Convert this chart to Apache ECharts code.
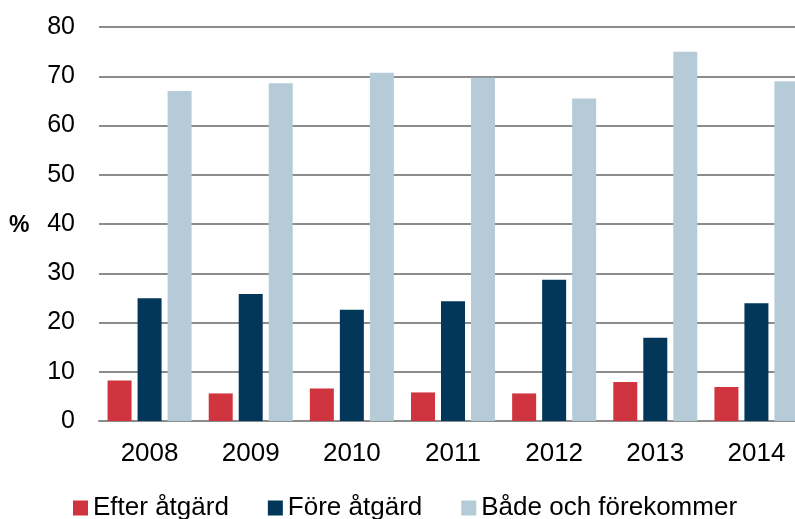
<!DOCTYPE html>
<html>
<head>
<meta charset="utf-8">
<script src="https://cdn.jsdelivr.net/npm/echarts@6/dist/echarts.min.js"></script>
<style>
  html, body { margin: 0; padding: 0; background: #fff; }
  #chart { width: 795px; height: 519px; }
</style>
</head>
<body>
<div id="chart"></div>
<script>
// Data
const years = ['2008', '2009', '2010', '2011', '2012', '2013', '2014'];
const efterAtgard = [8.2, 5.6, 6.6, 5.8, 5.6, 7.9, 6.9];
const foreAtgard = [24.9, 25.8, 22.6, 24.3, 28.7, 16.9, 23.9];
const badeOch = [67.0, 68.6, 70.7, 69.7, 65.5, 75.0, 69.0];

const FONT = 'Liberation Sans, Arial, sans-serif';

const chart = echarts.init(document.getElementById('chart'));

const option = {
    animation: false,
    textStyle: { fontFamily: FONT },
    grid: { left: 99, top: 27, bottom: 98, width: 708, outerBoundsMode: 'none', containLabel: false },
    legend: {
        top: 490,
        left: 68,
        itemWidth: 15,
        itemHeight: 15,
        itemGap: 39,
        icon: 'rect',
        textStyle: { fontFamily: FONT, fontSize: 26, color: '#000' },
        data: ['Efter åtgärd', 'Före åtgärd', 'Både och förekommer']
    },
    graphic: [{
        type: 'text',
        left: 9,
        top: 214,
        style: { text: '%', font: 'bold 23px ' + FONT, fill: '#000' }
    }],
    xAxis: {
        type: 'category',
        data: years,
        axisLine: { lineStyle: { color: '#8c8c8c', width: 2 } },
        axisTick: { show: false },
        axisLabel: { color: '#000', fontSize: 26, margin: 20, fontFamily: FONT }
    },
    yAxis: {
        type: 'value',
        min: 0,
        max: 80,
        interval: 10,
        axisLine: { show: false },
        axisTick: { show: false },
        axisLabel: { color: '#000', fontSize: 25, margin: 24, fontFamily: FONT },
        splitLine: { lineStyle: { color: '#8c8c8c', width: 2 } }
    },
    series: [
        {
            name: 'Efter åtgärd',
            type: 'bar',
            data: efterAtgard,
            barWidth: 24,
            barGap: '25%',
            itemStyle: { color: '#D0343F' }
        },
        {
            name: 'Före åtgärd',
            type: 'bar',
            data: foreAtgard,
            barWidth: 24,
            barGap: '25%',
            itemStyle: { color: '#03375A' }
        },
        {
            name: 'Både och förekommer',
            type: 'bar',
            data: badeOch,
            barWidth: 24,
            barGap: '25%',
            itemStyle: { color: '#B5CBD8' }
        }
    ]
};

chart.setOption(option);
</script>
</body>
</html>
